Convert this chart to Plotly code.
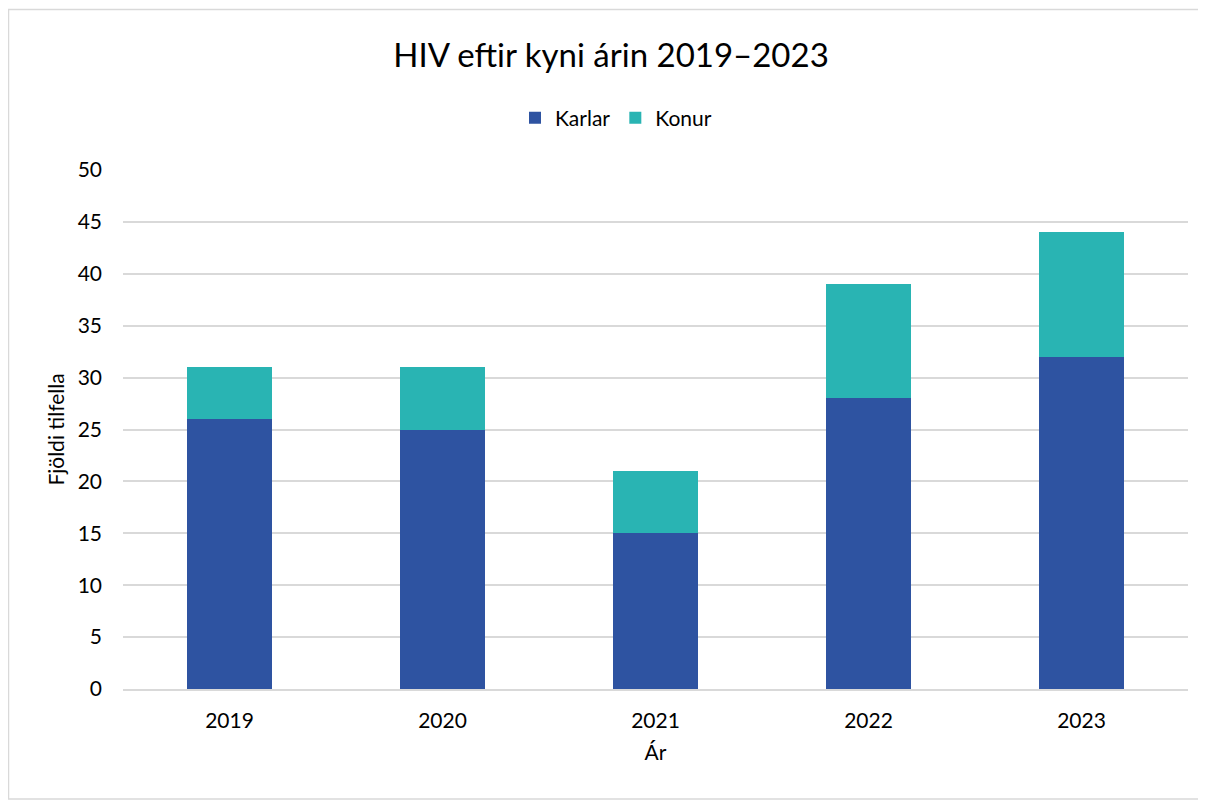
import plotly.graph_objects as go

# Data
years = ["2019", "2020", "2021", "2022", "2023"]
karlar = [26, 25, 15, 28, 32]
konur = [5, 6, 6, 11, 12]

FONT = "Lato, Open Sans, sans-serif"

fig = go.Figure()
fig.add_trace(go.Bar(x=years, y=karlar, name="Karlar", marker=dict(color="#2E53A1", line=dict(width=0))))
fig.add_trace(go.Bar(x=years, y=konur, name="Konur", marker=dict(color="#29B4B3", line=dict(width=0))))

# page has an 8px body margin, so work in figure coords (page - 8)
W, H = 1198, 792
L, R, T, B = 115, 18, 162, 111
pw, ph = W - L - R, H - T - B

def px(x):
    return (x - 8 - L) / pw

def py(y):
    return (H - B - (y - 8)) / ph

fig.update_layout(
    width=W, height=H,
    barmode="stack", bargap=0.6,
    paper_bgcolor="white", plot_bgcolor="white",
    margin=dict(l=L, r=R, t=T, b=B),
    font=dict(family=FONT, size=20, color="#000000"),
    title=dict(text="HIV eftir kyni árin 2019–2023", x=(611 - 8) / W, xanchor="center",
               y=1 - (55 - 8) / H, yanchor="middle", font=dict(size=33, color="#000000")),
    legend=dict(orientation="h", x=px(616), xanchor="center", y=py(118), yanchor="middle",
                font=dict(size=21), traceorder="normal", itemwidth=30),
    xaxis=dict(title=dict(text="Ár", font=dict(size=21), standoff=14),
               showgrid=False, showline=True, linecolor="#D9D9D9", linewidth=1.5,
               ticks="", tickfont=dict(size=21), ticklabelstandoff=12),
    yaxis=dict(title=dict(text="Fjöldi tilfella", font=dict(size=21), standoff=7),
               range=[0, 50], dtick=5, showgrid=True, gridcolor="#D9D9D9", gridwidth=1.5,
               zeroline=False, showline=False, ticks="", ticklabelstandoff=20,
               tickfont=dict(size=21)),
    showlegend=True,
)

# chart border
fig.add_shape(type="rect", xref="paper", yref="paper",
              x0=px(8.5), x1=px(1205), y0=py(799), y1=py(9.5),
              line=dict(color="#D9D9D9", width=1.5), fillcolor="rgba(0,0,0,0)", layer="below")

fig.write_html("out.html")
